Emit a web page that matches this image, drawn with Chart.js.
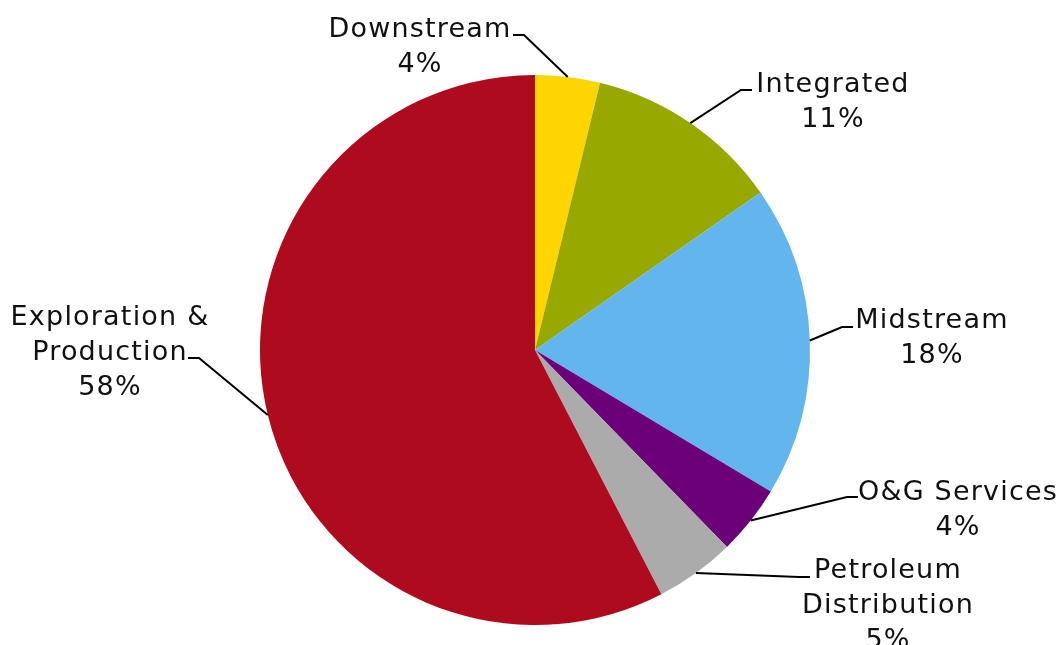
<!DOCTYPE html>
<html>
<head>
<meta charset="utf-8">
<script src="https://cdn.jsdelivr.net/npm/chart.js@4"></script>
<style>
  html, body { margin: 0; padding: 0; background: #fff; }
  #wrap { width: 1064px; height: 645px; }
</style>
</head>
<body>
<div id="wrap"><canvas id="pieChart" width="1064" height="645"></canvas></div>
<script>
// Data (shares; labels show the rounded values)
const sectors = ['Downstream', 'Integrated', 'Midstream', 'O&G Services', 'Petroleum Distribution', 'Exploration & Production'];
const shares = [3.8, 11.5, 18.3, 4.1, 4.7, 57.6];
const shareLabels = ['4%', '11%', '18%', '4%', '5%', '58%'];
const sliceColors = ['#FFD500', '#97A800', '#62B5ED', '#6B0078', '#ABABAB', '#AE0C1E'];

// Label layout: text lines, text centre x, first line y, end of leader line (x, y), elbow direction
const labelLines = [
  ['Downstream'],
  ['Integrated'],
  ['Midstream'],
  ['O&G Services'],
  ['Petroleum', 'Distribution'],
  ['Exploration &', 'Production']
];
const labelPos = [
  { x: 420, y: 30, ex: 513, ey: 35, dir: 1 },
  { x: 833, y: 85, ex: 752, ey: 90, dir: -1 },
  { x: 932, y: 321, ex: 853, ey: 327, dir: -1 },
  { x: 958, y: 493, ex: 858, ey: 497, dir: -1 },
  { x: 888, y: 571, ex: 810, ey: 577, dir: -1 },
  { x: 110, y: 318, ex: 188, ey: 358, dir: 1 }
];

const leaderLabels = {
  id: 'leaderLabels',
  afterDraw(chart) {
    const ctx = chart.ctx;
    const meta = chart.getDatasetMeta(0);
    ctx.save();
    meta.data.forEach((arc, i) => {
      const p = arc.getProps(['x', 'y', 'startAngle', 'endAngle', 'outerRadius'], true);
      const mid = (p.startAngle + p.endAngle) / 2;
      const ax = p.x + Math.cos(mid) * p.outerRadius;
      const ay = p.y + Math.sin(mid) * p.outerRadius;
      const lp = labelPos[i];
      const elbowX = lp.ex + lp.dir * 11;
      ctx.strokeStyle = '#000';
      ctx.lineWidth = 2;
      ctx.beginPath();
      ctx.moveTo(ax, ay);
      ctx.lineTo(elbowX, lp.ey);
      ctx.lineTo(lp.ex, lp.ey);
      ctx.stroke();

      ctx.fillStyle = '#111';
      ctx.font = '27px "DejaVu Sans"';
      ctx.letterSpacing = '1.2px';
      ctx.textAlign = 'center';
      ctx.textBaseline = 'middle';
      const lines = labelLines[i].concat([shareLabels[i]]);
      lines.forEach((line, j) => {
        ctx.fillText(line, lp.x, lp.y + j * 35);
      });
    });
    ctx.restore();
  }
};

const pieCtx = document.getElementById('pieChart').getContext('2d');
const pieChart = new Chart(pieCtx, {
  type: 'pie',
  data: {
    labels: sectors,
    datasets: [{
      data: shares,
      backgroundColor: sliceColors,
      borderWidth: 0
    }]
  },
  options: {
    responsive: false,
    animation: false,
    layout: {
      padding: { left: 260, right: 254, top: 75, bottom: 20 }
    },
    plugins: {
      legend: { display: false },
      tooltip: { enabled: false }
    }
  },
  plugins: [leaderLabels]
});
</script>
</body>
</html>
